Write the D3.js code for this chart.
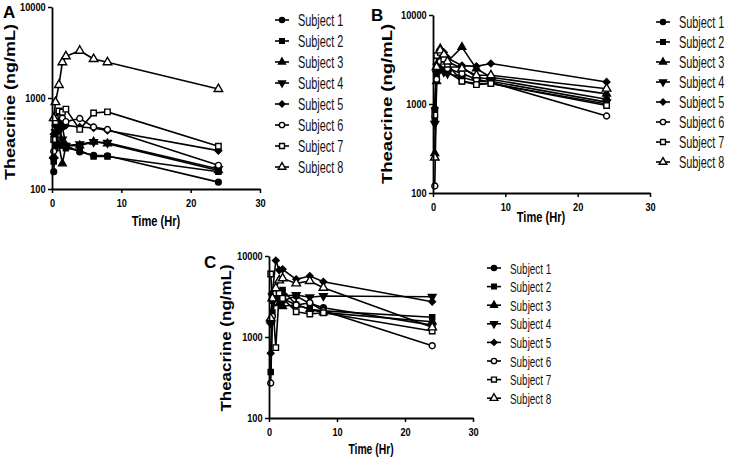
<!DOCTYPE html>
<html><head><meta charset="utf-8">
<script src="https://cdn.jsdelivr.net/npm/d3@7"></script>
<style>body{margin:0;background:#fff}svg{display:block}</style>
</head><body>
<svg id="c" width="741" height="459"></svg>
<script>
const times = [0.25, 0.5, 1, 1.5, 2, 4, 6, 8, 24];
const subjects = ["Subject 1","Subject 2","Subject 3","Subject 4","Subject 5","Subject 6","Subject 7","Subject 8"];
const xTicks = [0, 10, 20, 30];
const yTicks = [100, 1000, 10000];
const panelLabels = ["A", "B", "C"];

const panelA = [
  [155, 300, 520, 480, 300, 255, 235, 232, 119],
  [200, 280, 450, 300, 280, 265, 228, 228, 155],
  [230, 350, 300, 190, 300, 300, 330, 315, 160],
  [210, 420, 500, 350, 300, 310, 330, 322, 166],
  [400, 500, 550, 520, 500, 480, 468, 440, 264],
  [260, 600, 700, 600, 550, 595, 480, 450, 182],
  [350, 550, 720, 700, 755, 452, 685, 704, 295],
  [600, 900, 1390, 2470, 2870, 3310, 2680, 2470, 1255]
];
const panelB = [
  [850, 2500, 3200, 2800, 2600, 2600, 2000, 1900, 1130],
  [700, 2000, 2600, 2400, 2300, 1800, 1700, 1700, 1000],
  [280, 1800, 4200, 3500, 3000, 4350, 2500, 2000, 1300],
  [600, 2200, 2500, 2300, 2200, 2000, 1800, 1800, 1050],
  [900, 2800, 4100, 3800, 3300, 2700, 2650, 2850, 1770],
  [120, 1900, 3000, 2800, 2500, 2200, 1900, 1750, 733],
  [750, 3500, 3800, 3200, 2800, 1800, 1650, 1700, 960],
  [250, 2600, 4000, 3600, 3000, 2500, 2100, 2100, 1486]
];
const panelC = [
  [1500, 2800, 3200, 3000, 2800, 3200, 2600, 2300, 1400],
  [370, 2000, 3500, 3300, 3800, 2500, 2200, 2100, 1750],
  [1600, 3000, 3000, 2600, 2400, 2500, 2200, 2000, 1545],
  [1500, 3200, 3500, 3000, 3200, 3300, 3100, 3210, 3140],
  [630, 3500, 8800, 6700, 6850, 5160, 5660, 4800, 2730],
  [270, 1800, 3500, 3600, 3000, 2480, 2650, 2110, 781],
  [6000, 3000, 740, 3500, 3000, 2050, 1920, 1995, 1185],
  [1700, 3000, 4000, 5000, 5300, 4590, 4910, 4060, 1315]
];

const svg = d3.select("#c");

const layouts = [
  {data: panelA, x0: 52, x1: 260, yT: 7, yB: 189, lab: [3, 18], ylab: [10, 102, 18], xlab: [156, 226, 15],
   leg: {x: 275, y: 20, dy: 21, fs: 17}},
  {data: panelB, x0: 433, x1: 650, yT: 15, yB: 193, lab: [371, 21], ylab: [387, 104, 18.5], xlab: [541, 222, 15],
   leg: {x: 656, y: 22, dy: 20, fs: 17}},
  {data: panelC, x0: 269, x1: 473, yT: 256, yB: 418, lab: [204, 268], ylab: [226, 338, 17], xlab: [371, 454, 14],
   leg: {x: 487, y: 268, dy: 18.6, fs: 15.5}}
];

const shapes = [
  {t: d3.symbolCircle, fill: "#000", rot: 0, s: 26},
  {t: d3.symbolSquare, fill: "#000", rot: 0, s: 26},
  {t: d3.symbolTriangle, fill: "#000", rot: 0, s: 26},
  {t: d3.symbolTriangle, fill: "#000", rot: 180, s: 26},
  {t: d3.symbolSquare, fill: "#000", rot: 45, s: 22},
  {t: d3.symbolCircle, fill: "#fff", rot: 0, s: 28},
  {t: d3.symbolSquare, fill: "#fff", rot: 0, s: 30},
  {t: d3.symbolTriangle, fill: "#fff", rot: 0, s: 32}
];

function drawMarker(g, i, x, y, k) {
  const sh = shapes[i];
  g.append("path")
    .attr("d", d3.symbol().type(sh.t).size(sh.s * (k || 1))())
    .attr("transform", `translate(${x},${y}) rotate(${sh.rot})`)
    .attr("fill", sh.fill).attr("stroke", "#000").attr("stroke-width", 1.4);
}

const font = "'Liberation Sans', Arial, sans-serif";

layouts.forEach((L, p) => {
  const x = d3.scaleLinear().domain([0, 30]).range([L.x0, L.x1]);
  const y = d3.scaleLog().domain([100, 10000]).range([L.yB, L.yT]);
  const g = svg.append("g");

  const line = d3.line().x((d, j) => x(times[j])).y(d => y(d));
  L.data.forEach((vals) => {
    g.append("path").attr("d", line(vals)).attr("fill", "none")
      .attr("stroke", "#000").attr("stroke-width", 1.6);
  });
  L.data.forEach((vals, i) => {
    vals.forEach((v, j) => drawMarker(g, i, x(times[j]), y(v)));
  });

  const ax = g.append("g").attr("transform", `translate(0,${L.yB})`)
    .call(d3.axisBottom(x).tickValues(xTicks).tickFormat(d3.format("d")).tickSize(4).tickPadding(4).tickSizeOuter(0));
  const ay = g.append("g").attr("transform", `translate(${L.x0},0)`)
    .call(d3.axisLeft(y).tickValues(yTicks).tickFormat(d3.format("d")).tickSize(4).tickPadding(2).tickSizeOuter(0));
  [ax, ay].forEach(a => {
    a.select(".domain").attr("stroke-width", 1.8);
    a.selectAll(".tick line").attr("stroke-width", 1.5);
    a.selectAll("text").attr("font-family", font).attr("font-weight", "bold")
      .attr("font-size", 11.5).attr("fill", "#000");
  });
  ax.selectAll(".tick text").attr("transform", "scale(0.8,1)").attr("dy", "0.85em");
  ay.selectAll(".tick text").attr("transform", "scale(0.8,1)").attr("x", -8);

  g.append("text").attr("x", L.lab[0]).attr("y", L.lab[1]).text(panelLabels[p])
    .attr("font-family", font).attr("font-weight", "bold").attr("font-size", 17);

  g.append("text").attr("transform", `translate(${L.ylab[0]},${L.ylab[1]}) rotate(-90) scale(1,0.82)`)
    .attr("text-anchor", "middle").attr("dy", "0.35em").text("Theacrine (ng/mL)")
    .attr("font-family", font).attr("font-weight", "bold").attr("font-size", L.ylab[2]);

  g.append("text").attr("transform", `translate(${L.xlab[0]},${L.xlab[1]}) scale(0.74,1)`)
    .attr("text-anchor", "middle").text("Time (Hr)")
    .attr("font-family", font).attr("font-weight", "bold").attr("font-size", L.xlab[2]);

  const lg = g.append("g");
  subjects.forEach((s, i) => {
    const yy = L.leg.y + i * L.leg.dy;
    lg.append("line").attr("x1", L.leg.x).attr("x2", L.leg.x + 14).attr("y1", yy).attr("y2", yy)
      .attr("stroke", "#000").attr("stroke-width", 1.6);
    drawMarker(lg, i, L.leg.x + 7, yy, 0.8);
    lg.append("text").attr("transform", `translate(${L.leg.x + 23},${yy}) scale(0.64,1)`)
      .attr("dy", "0.36em").text(s)
      .attr("font-family", font).attr("font-size", L.leg.fs).attr("fill", "#111");
  });
});
</script>
</body></html>
